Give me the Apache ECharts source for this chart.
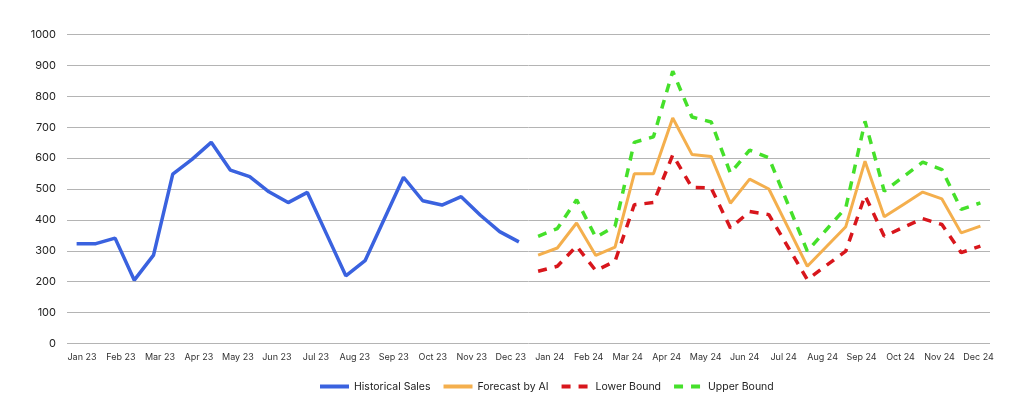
<!DOCTYPE html>
<html>
<head>
<meta charset="utf-8">
<script src="https://cdn.jsdelivr.net/npm/echarts@6/dist/echarts.min.js"></script>
<style>
html,body{margin:0;padding:0;background:#fff;}
#chart{width:1024px;height:419px;}
</style>
</head>
<body>
<div id="chart"></div>
<script>
// Month tick labels shown under the axis
var monthLabels = ['Jan 23','Feb 23','Mar 23','Apr 23','May 23','Jun 23','Jul 23','Aug 23','Sep 23','Oct 23','Nov 23','Dec 23',
                   'Jan 24','Feb 24','Mar 24','Apr 24','May 24','Jun 24','Jul 24','Aug 24','Sep 24','Oct 24','Nov 24','Dec 24'];
// Half-month periods (two data points per month)
var halves = ['H1','H2'];
// Historical sales, Jan 23 - Dec 23 (half-month points)
var historicalSales = [323,323,341,205,286,548,596,651,561,540,491,456,489,354,219,268,403,538,462,448,475,415,362,329];
// Forecast, Jan 24 - Dec 24 (half-month points)
var forecastAI = [286,309,390,285,312,549,549,730,612,605,454,532,500,375,250,314,378,590,410,450,490,468,358,380];
var lowerBound = [234,250,315,236,266,449,456,610,505,503,374,427,417,312,207,253,299,479,347,376,404,385,294,315];
var upperBound = [347,372,465,344,379,651,669,881,733,717,551,626,601,450,299,369,439,719,493,540,587,563,434,455];

var periods = [];
monthLabels.forEach(function(m){ halves.forEach(function(h){ periods.push(m + ' ' + h); }); });
var nHist = historicalSales.length;
function pad(before, arr, after){
  var out = [];
  for (var i=0;i<before;i++) out.push(null);
  out = out.concat(arr);
  for (var j=0;j<after;j++) out.push(null);
  return out;
}
var total = periods.length;
var histData = pad(0, historicalSales, total - nHist);
var fcData = pad(nHist, forecastAI, total - nHist - forecastAI.length);
var lowData = pad(nHist, lowerBound, total - nHist - lowerBound.length);
var upData = pad(nHist, upperBound, total - nHist - upperBound.length);

var FONT = 'Inter';
var chart = echarts.init(document.getElementById('chart'), null, {renderer:'canvas'});
chart.setOption({
  animation:false,
  backgroundColor:'#ffffff',
  textStyle:{fontFamily:FONT},
  grid:[
    {left:67, right:34, top:34.5, bottom:75.5},
    {left:82, right:45.5, top:34.5, bottom:75.5}
  ],
  xAxis:[
    {type:'category', gridIndex:0, data:periods, boundaryGap:true,
     axisLine:{show:false}, axisTick:{show:false}, axisLabel:{show:false}, splitLine:{show:false}},
    {type:'category', gridIndex:1, data:monthLabels, boundaryGap:false,
     axisLine:{show:false}, axisTick:{show:false}, splitLine:{show:false},
     axisLabel:{interval:0, color:'#333', fontSize:9, fontFamily:FONT, margin:9}}
  ],
  yAxis:[
    {type:'value', gridIndex:0, min:0, max:1000, interval:100,
     axisLine:{show:false}, axisTick:{show:false},
     splitLine:{lineStyle:{color:'#b4b4b4', width:1}},
     axisLabel:{color:'#222', fontSize:11, fontFamily:FONT, margin:11, formatter:function(v){return String(v);}}},
    {type:'value', gridIndex:1, min:0, max:1000, show:false}
  ],
  legend:{
    top:376, left:313, itemWidth:29, itemHeight:12, itemGap:11,
    itemStyle:{opacity:0},
    lineStyle:{width:4},
    textStyle:{color:'#222', fontSize:10.5, fontFamily:FONT},
    data:['Historical Sales','Forecast by AI','Lower Bound','Upper Bound']
  },
  series:[
    {name:'Historical Sales', type:'line', data:histData, symbol:'none', showSymbol:false,
     lineStyle:{color:'#3a62df', width:3.5}, itemStyle:{color:'#3a62df'}},
    {name:'Forecast by AI', type:'line', data:fcData, symbol:'none', showSymbol:false,
     lineStyle:{color:'#f4af4d', width:3}, itemStyle:{color:'#f4af4d'}},
    {name:'Lower Bound', type:'line', data:lowData, symbol:'none', showSymbol:false,
     lineStyle:{color:'#d8161c', width:3.5, type:[9,8]}, itemStyle:{color:'#d8161c'}},
    {name:'Upper Bound', type:'line', data:upData, symbol:'none', showSymbol:false,
     lineStyle:{color:'#45e02a', width:3.5, type:[9,8]}, itemStyle:{color:'#45e02a'}}
  ]
});
</script>
</body>
</html>
